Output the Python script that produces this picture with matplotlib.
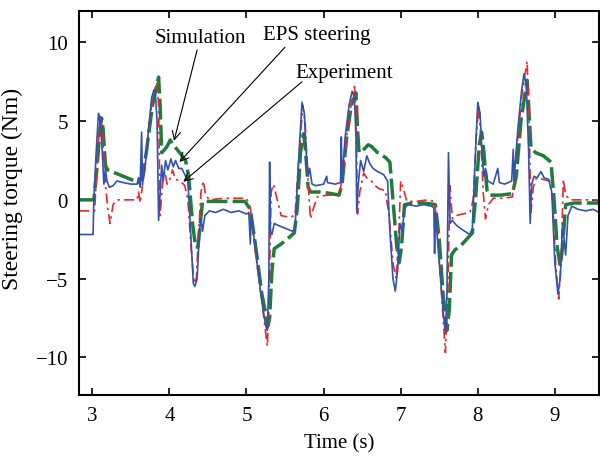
import numpy as np
import matplotlib.pyplot as plt

# Steering torque traces, time (s) / torque (Nm)
sim_t = [2.83, 3.02, 3.06, 3.10, 3.12, 3.14, 3.17, 3.20, 3.30, 3.40, 3.50, 3.60, 3.65, 3.70, 3.78,
         3.86, 3.88, 3.90, 3.94, 3.97, 4.01, 4.05, 4.10, 4.15, 4.21, 4.25, 4.30, 4.34, 4.37, 4.40,
         4.43, 4.50, 4.70, 4.90, 4.98, 5.05, 5.12, 5.20, 5.28, 5.30, 5.33, 5.36, 5.45, 5.55, 5.62,
         5.66, 5.70, 5.74, 5.76, 5.80, 5.83, 5.95, 6.10, 6.20, 6.24, 6.30, 6.36, 6.42, 6.44, 6.46,
         6.52, 6.58, 6.62, 6.70, 6.80, 6.86, 6.90, 6.95, 6.98, 7.01, 7.05, 7.15, 7.30, 7.45, 7.50,
         7.55, 7.60, 7.63, 7.66, 7.70, 7.80, 7.93, 7.97, 8.02, 8.05, 8.08, 8.12, 8.15, 8.30, 8.45,
         8.50, 8.56, 8.64, 8.66, 8.69, 8.75, 8.85, 8.95, 8.99, 9.03, 9.07, 9.10, 9.14, 9.25, 9.40,
         9.57]
sim_y = [0.0, 0.0, 2.0, 4.5, 5.2, 4.5, 2.2, 1.9, 1.7, 1.5, 1.3, 1.1, 1.5, 3.0, 6.0,
         7.8, 6.0, 3.0, 3.2, 3.4, 3.8, 3.5, 3.2, 2.9, 2.5, 1.5, -1.5, -3.0, -3.0, -1.5,
         -0.1, -0.1, -0.1, -0.1, -0.1, -0.6, -3.0, -6.0, -8.0, -7.5, -4.5, -3.1, -2.8, -2.4, -2.1,
         -0.5, 3.0, 4.2, 3.5, 0.8, 0.5, 0.5, 0.4, 0.3, 1.0, 4.0, 6.0, 6.8, 4.5, 3.0,
         3.2, 3.5, 3.4, 3.0, 2.7, 2.4, 0.0, -3.0, -4.0, -3.0, -0.3, -0.2, -0.2, -0.3, -2.5,
         -6.0, -8.3, -7.0, -3.5, -3.2, -2.8, -2.1, 0.0, 3.5, 4.3, 3.0, 0.6, 0.3, 0.3, 0.4,
         1.5, 5.0, 7.6, 6.0, 3.3, 3.0, 2.8, 2.4, 0.0, -3.0, -4.2, -3.0, -0.3, -0.2, -0.2,
         -0.2]

eps_t = [2.83, 3.01, 3.02, 3.05, 3.08, 3.10, 3.13, 3.15, 3.17, 3.19, 3.22, 3.27, 3.32, 3.40, 3.50,
         3.58, 3.60, 3.62, 3.64, 3.65, 3.68, 3.72, 3.77, 3.80, 3.82, 3.84, 3.86, 3.88, 3.90, 3.92,
         3.95, 3.98, 4.02, 4.05, 4.08, 4.12, 4.16, 4.20, 4.24, 4.27, 4.31, 4.33, 4.36, 4.39, 4.41,
         4.43, 4.46, 4.52, 4.60, 4.70, 4.80, 4.90, 5.00, 5.03, 5.05, 5.06, 5.10, 5.15, 5.20, 5.25,
         5.27, 5.29, 5.30, 5.31, 5.33, 5.36, 5.40, 5.50, 5.60, 5.63, 5.67, 5.72, 5.75, 5.78, 5.80,
         5.82, 5.85, 5.90, 6.00, 6.04, 6.05, 6.15, 6.22, 6.23, 6.24, 6.28, 6.33, 6.37, 6.40, 6.42,
         6.43, 6.45, 6.48, 6.52, 6.56, 6.60, 6.64, 6.70, 6.78, 6.83, 6.86, 6.90, 6.93, 6.96, 6.99,
         7.02, 7.05, 7.10, 7.20, 7.30, 7.40, 7.43, 7.44, 7.45, 7.50, 7.55, 7.58, 7.60, 7.62, 7.64,
         7.67, 7.72, 7.80, 7.90, 7.93, 7.97, 8.00, 8.03, 8.06, 8.08, 8.10, 8.13, 8.20, 8.26, 8.28,
         8.35, 8.44, 8.46, 8.47, 8.52, 8.57, 8.60, 8.63, 8.66, 8.68, 8.70, 8.73, 8.77, 8.82, 8.86,
         8.92, 8.96, 9.00, 9.04, 9.07, 9.10, 9.14, 9.17, 9.22, 9.30, 9.40, 9.50, 9.57]
eps_y = [-2.2, -2.2, 0.0, 3.0, 5.5, 5.2, 3.0, 1.0, 2.0, 1.2, 0.8, 0.9, 1.2, 1.1, 1.0,
         1.0, 1.4, 0.8, 4.3, 1.0, 1.8, 4.0, 6.5, 7.0, 6.6, 5.0, -1.3, 0.5, 2.2, 1.2,
         2.5, 1.9, 2.6, 2.1, 2.5, 2.0, 2.0, 1.6, 1.2, -1.5, -5.3, -5.5, -5.0, -2.0, -1.2,
         -2.0, -1.0, -0.7, -0.8, -0.6, -0.8, -0.7, -0.9, -0.8, -2.8, -1.0, -2.5, -4.5, -6.5, -8.0,
         -8.3, -5.0, 2.4, -2.0, -2.2, -1.5, -1.6, -1.8, -2.0, -1.8, 2.0, 6.2, 5.5, 2.5, 1.5,
         2.0, 1.0, 0.9, 1.0, 1.5, 1.1, 1.0, 1.1, 4.0, 1.2, 4.0, 6.0, 6.9, 6.5, 4.0,
         -0.8, 1.0, 2.5, 1.8, 2.8, 2.3, 2.0, 1.8, 1.6, 1.2, -2.0, -5.0, -5.8, -4.5, -1.5,
         -2.0, -0.5, -0.3, -0.4, -0.3, -0.4, -0.5, -3.4, -0.8, -4.0, -7.0, -8.5, -6.0, 3.0, -1.5,
         -1.3, -1.6, -1.9, -2.2, -1.8, 3.0, 6.2, 5.5, 2.5, 1.5, 2.0, 1.2, 1.0, 2.0, 1.1,
         1.0, 1.2, 3.2, 1.3, 4.5, 7.0, 8.0, 7.2, 3.0, -1.5, 1.0, 1.5, 1.4, 1.8, 1.4,
         1.3, 0.5, -4.0, -6.0, -5.0, -1.5, -3.5, -1.0, -0.4, -0.6, -0.7, -0.6, -0.8]

exp_t = [2.83, 3.03, 3.06, 3.10, 3.13, 3.17, 3.20, 3.23, 3.27, 3.32, 3.45, 3.58, 3.60, 3.62, 3.64,
         3.70, 3.78, 3.84, 3.86, 3.88, 3.91, 3.94, 3.97, 4.00, 4.04, 4.08, 4.14, 4.20, 4.24, 4.28,
         4.32, 4.35, 4.38, 4.41, 4.44, 4.47, 4.52, 4.70, 4.90, 5.00, 5.05, 5.12, 5.20, 5.27, 5.29,
         5.32, 5.35, 5.40, 5.45, 5.55, 5.63, 5.67, 5.73, 5.76, 5.80, 5.83, 5.87, 5.92, 6.05, 6.20,
         6.25, 6.32, 6.40, 6.42, 6.44, 6.47, 6.52, 6.56, 6.62, 6.67, 6.72, 6.80, 6.85, 6.90, 6.94,
         6.97, 7.00, 7.03, 7.08, 7.20, 7.35, 7.44, 7.48, 7.53, 7.58, 7.61, 7.64, 7.67, 7.72, 7.80,
         7.90, 7.94, 7.98, 8.01, 8.04, 8.07, 8.10, 8.14, 8.20, 8.35, 8.45, 8.50, 8.58, 8.64, 8.66,
         8.69, 8.72, 8.76, 8.85, 8.93, 8.97, 9.01, 9.05, 9.08, 9.11, 9.14, 9.20, 9.35, 9.57]
exp_y = [-0.7, -0.7, 2.0, 5.3, 4.5, 1.0, -0.5, -1.5, -0.3, 0.0, 0.0, 0.0, 0.5, -0.2, 0.5,
         3.0, 6.5, 7.4, 6.0, -1.0, 1.0, 1.8, 1.0, 1.2, 1.9, 1.3, 1.2, 0.9, 0.0, -3.0,
         -5.3, -5.0, -2.0, 0.5, 1.2, 0.3, 0.0, 0.1, 0.1, 0.1, -0.5, -3.5, -6.5, -9.3, -7.0,
         0.5, 1.0, 0.0, -1.0, -1.1, -1.0, 2.0, 6.0, 5.0, 1.0, -1.2, -0.5, 0.2, 0.3, 0.3,
         1.5, 5.0, 7.2, 6.0, -0.9, 0.5, 1.7, 1.4, 1.2, 0.9, 0.7, 0.6, -1.0, -4.0, -5.0,
         -3.0, 1.2, 0.8, -0.1, -0.1, 0.0, -0.1, -2.0, -6.0, -9.7, -6.0, 0.9, -1.2, -1.0, -0.9,
         -0.8, 0.0, 4.0, 6.0, 4.0, 0.5, -1.2, -0.3, 0.1, 0.1, 0.2, 3.0, 7.0, 8.8, 6.0,
         -0.8, 0.8, 1.4, 1.3, 1.2, 0.0, -4.0, -6.3, -4.0, 1.3, 0.3, 0.0, 0.0, 0.0]

x_ticks = [3, 4, 5, 6, 7, 8, 9]
y_ticks = [-10, -5, 0, 5, 10]

plt.rcParams['font.family'] = ['Liberation Serif', 'DejaVu Serif']
plt.rcParams['font.size'] = 15

fig = plt.figure(figsize=(6, 4.6), dpi=100)
ax = fig.add_axes([0.132, 0.139, 0.866, 0.835])

ax.plot(sim_t, sim_y, color='#1f7d3a', lw=2.5, dashes=(6, 1.5))
ax.plot(exp_t, exp_y, color='#e8282c', lw=1.2, dashes=(6, 2.5, 1.5, 2.5))
ax.plot(eps_t, eps_y, color='#3352b0', lw=1.2)

ax.set_xlim(2.83, 9.57)
ax.set_ylim(-12.4, 12.0)
ax.set_xticks(x_ticks)
ax.set_yticks(y_ticks)
ax.tick_params(direction='in', length=5, width=1.2, top=True, right=True, pad=8)
for s in ax.spines.values():
    s.set_linewidth(1.5)

ax.set_xlabel('Time (s)', labelpad=6)
ax.set_ylabel('Steering torque (Nm)', fontsize=17)
ax.yaxis.set_label_coords(-0.108, 0.54)

arrow = dict(arrowstyle='->', color='black', lw=0.8, shrinkA=0, shrinkB=0)
ax.annotate('Simulation', xy=(4.06, 3.75), xytext=(4.40, 10.3),
            ha='center', va='center', arrowprops=arrow)
ax.annotate('', xy=(4.13, 2.4), xytext=(5.50, 9.7), arrowprops=arrow)
ax.text(5.91, 10.5, 'EPS steering', ha='center', va='center')
ax.annotate('', xy=(4.18, 1.15), xytext=(5.72, 7.5), arrowprops=arrow)
ax.text(6.27, 8.1, 'Experiment', ha='center', va='center')

fig.savefig('out.png', dpi=100)
